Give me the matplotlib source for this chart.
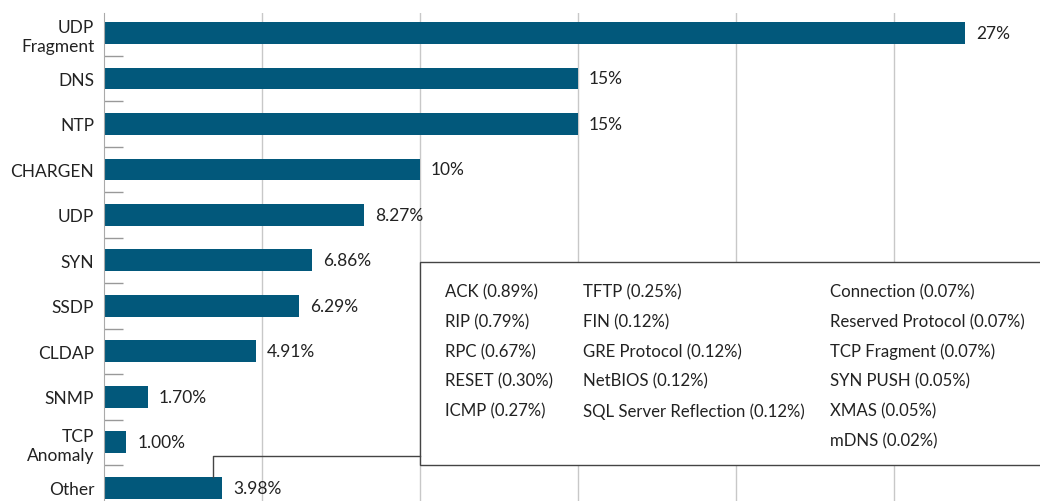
import matplotlib.pyplot as plt
from matplotlib.patches import Rectangle

# main categories
categories = ['UDP\nFragment', 'DNS', 'NTP', 'CHARGEN', 'UDP', 'SYN', 'SSDP',
              'CLDAP', 'SNMP', 'TCP\nAnomaly', 'Other']
# bar lengths as drawn in the picture (the artwork is not exactly to scale)
bar_lengths = [27.25, 15.0, 15.0, 10.0, 8.23, 6.58, 6.17, 4.81, 1.39, 0.70, 3.73]
share_labels = ['27%', '15%', '15%', '10%', '8.27%', '6.86%', '6.29%',
                '4.91%', '1.70%', '1.00%', '3.98%']

# breakdown of "Other"
other_col1 = ['ACK (0.89%)', 'RIP (0.79%)', 'RPC (0.67%)', 'RESET (0.30%)', 'ICMP (0.27%)']
other_col2 = ['TFTP (0.25%)', 'FIN (0.12%)', 'GRE Protocol (0.12%)', 'NetBIOS (0.12%)',
              'SQL Server Reflection (0.12%)']
other_col3 = ['Connection (0.07%)', 'Reserved Protocol (0.07%)', 'TCP Fragment (0.07%)',
              'SYN PUSH (0.05%)', 'XMAS (0.05%)', 'mDNS (0.02%)']

bar_color = '#02587b'
text_color = '#222222'
plt.rcParams['font.family'] = ['Lato', 'DejaVu Sans']

fig = plt.figure(figsize=(10.4, 5.02), dpi=100)
ax = fig.add_axes([0.1, 0, 0.9, 488 / 502])

y = list(range(len(categories)))
ax.barh(y, bar_lengths, height=0.48, color=bar_color, zorder=2)
for yi, v, lab in zip(y, bar_lengths, share_labels):
    ax.text(v + 0.35, yi, lab, va='center', ha='left', fontsize=12.5, color=text_color)

ax.set_xlim(0, 29.62)
ax.set_ylim(10.29, -0.44)
ax.set_yticks(y)
ax.set_yticklabels(categories, fontsize=12.5, color=text_color, linespacing=1.25)
ax.tick_params(axis='y', which='major', length=0, pad=7)
ax.set_yticks([i + 0.5 for i in y[:-1]], minor=True)
ax.tick_params(axis='y', which='minor', direction='in', length=14, color='#999999', width=1)
ax.set_xticks([5, 10, 15, 20, 25])
ax.tick_params(axis='x', length=0, labelbottom=False)
ax.grid(axis='x', color='#c8c8c8', linewidth=1, zorder=0)
for s in ['top', 'right', 'bottom']:
    ax.spines[s].set_visible(False)
ax.spines['left'].set_color('#aaaaaa')

# box listing the "Other" breakdown
box_left, box_top, box_bottom = 10.0, 5.03, 9.49
ax.add_patch(Rectangle((box_left, box_top), 25, box_bottom - box_top, facecolor='white',
                       edgecolor='#444444', linewidth=1, zorder=4, clip_on=False))
ax.plot([3.45, 3.45, box_left], [10 - 0.24, 9.30, 9.30], color='#444444', linewidth=1, zorder=4)

col_x = [10.8, 15.15, 22.97]
row0, row_step = 5.69, 0.652
for cx, col in zip(col_x, [other_col1, other_col2, other_col3]):
    for j, item in enumerate(col):
        ax.text(cx, row0 + j * row_step, item, va='center', ha='left', fontsize=12.1,
                color=text_color, zorder=5)

fig.savefig('out.png', dpi=100)
